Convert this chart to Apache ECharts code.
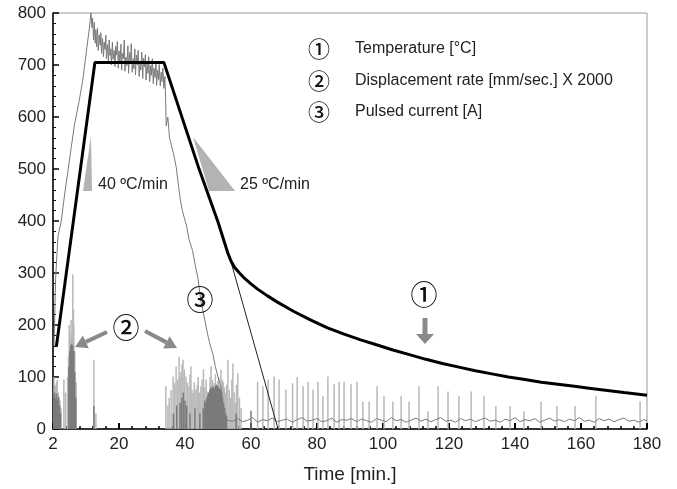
<!DOCTYPE html>
<html><head><meta charset="utf-8">
<script src="https://cdn.jsdelivr.net/npm/echarts/dist/echarts.min.js"></script>
<style>html,body{margin:0;padding:0;background:#fff}#c{width:677px;height:489px}</style>
</head><body><div id="c"></div>
<script>
// ---- tick labels ----
const xTickLabels = ['2','20','40','60','80','100','120','140','160','180'];
const legendItems = ['Temperature [°C]', 'Displacement rate [mm/sec.] X 2000', 'Pulsed current [A]'];
const legendMarks = ['①','②','③'];

// ---- series 1 : temperature [°C] ----
const temperature = [[1,158],[12.7,705],[33.6,705],[44,505],[50,398],[53,338],[54,322],[55,311],[56.5,300],[58,290],[60,279],[62,269],[65,256],[68,244],[73,226],[78,210],[83,195],[88,183],[93,172],[98,162],[103,152],[108,143],[113,134],[118,126],[123,119],[128,112],[133,106],[138,100],[143,95],[148,90],[153,86],[158,82],[163,78],[168,74],[173,70],[180,65]];
// programmed linear cooling continuation
const tempRamp = [[54,320],[68.2,0]];

// ---- series 3 : pulsed current [A] ----
const pulsedCurrent = [[0.3,160],[0.8,290],[1.5,370],[2.5,400],[3.5,450],[4.5,495],[5.5,540],[6.5,585],[7.9,630],[9,670],[10,720],[11,770],[11.5,800],[11.8,772],[12.0,790],[12.3,748],[12.5,782],[12.8,742],[13.0,768],[13.2,735],[13.5,771],[13.7,728],[14.0,758],[14.3,738],[14.5,762],[14.7,722],[15.0,751],[15.3,716],[15.5,744],[15.8,730],[16.0,757],[16.2,712],[16.5,739],[16.8,706],[17.0,748],[17.3,718],[17.5,731],[17.7,700],[18.0,744],[18.2,711],[18.5,728],[18.8,697],[19.0,736],[19.2,719],[19.5,745],[19.8,694],[20.0,727],[20.3,705],[20.6,740],[20.8,690],[21.0,722],[21.3,712],[21.6,748],[21.8,688],[22.1,715],[22.4,699],[22.7,737],[22.9,684],[23.2,724],[23.5,703],[23.7,741],[24.0,686],[24.3,712],[24.5,693],[24.8,731],[25.0,681],[25.3,719],[25.6,700],[25.8,728],[26.1,678],[26.4,707],[26.6,690],[26.9,725],[27.2,674],[27.4,713],[27.7,696],[28.0,720],[28.2,671],[28.5,702],[28.8,684],[29.0,716],[29.3,668],[29.6,699],[29.8,680],[30.1,712],[30.4,664],[30.6,694],[30.9,676],[31.2,706],[31.4,661],[31.7,690],[32.0,672],[32.2,701],[32.5,660],[32.8,686],[33.0,668],[33.3,694],[33.6,655],[33.9,678],[34.1,640],[34.3,583],[34.8,600],[35.3,560],[35.8,563],[36.5,530],[37.3,505],[38,470],[38.6,440],[39.2,420],[39.8,406],[40.5,390],[41.2,365],[42.3,343],[43.1,315],[43.9,291],[44.8,247],[45.5,225],[46.3,200],[47,178],[47.7,160],[48.4,145],[49.2,120],[50,100],[50.9,82],[51.4,50],[51.8,20],[52.5,17],
[53,18],[54.5,15],[56,20],[57.5,14],[59,17],[60.5,22],[62,13],[63.5,18],[65,16],[66.5,21],[68,14],[69.5,17],[71,19],[72.5,13],[74,18],[75.5,22],[77,15],[78.5,17],[80,20],[81.5,14],[83,16],[84.5,21],[86,13],[87.5,18],[89,17],[90.5,20],[92,14],[93.5,19],[95,16],[96.5,13],[98,20],[99.5,17],[101,14],[102.5,22],[104,16],[105.5,18],[107,13],[108.5,17],[110,21],[111.5,15],[113,19],[114.5,14],[116,18],[117.5,22],[119,15],[120.5,17],[122,13],[123.5,20],[125,16],[126.5,19],[128,14],[129.5,18],[131,21],[132.5,15],[134,17],[135.5,13],[137,19],[138.5,16],[140,22],[141.5,14],[143,18],[144.5,16],[146,20],[147.5,13],[149,17],[150.5,21],[152,15],[153.5,18],[155,14],[156.5,19],[158,16],[159.5,22],[161,15],[162.5,17],[164,13],[165.5,20],[167,16],[168.5,19],[170,14],[171.5,18],[173,21],[174.5,15],[176,17],[177.5,13],[179,18],[180,16]];

// ---- series 2 : displacement rate x 2000 (spikes) ----
const dispLight = [[0.3,100],[0.6,85],[0.8,80],[1.1,90],[1.3,95],[1.6,70],[1.8,60],[2.1,55],[2.4,40],[3.3,95],[3.8,70],[4.4,100],[4.7,140],[4.9,200],[5.1,185],[5.3,170],[5.5,210],[5.7,180],[6.0,297],[6.2,230],[6.3,200],[6.6,150],[7.0,90],[12.4,133],[13.0,30],
[34.2,82],[34.8,45],[35.2,60],[35.8,75],[36.4,101],[36.9,88],[37.3,120],[37.8,95],[38.2,139],[38.5,100],[38.8,110],[39.1,125],[39.4,133],[39.8,115],[40.3,101],[40.7,90],[41.2,82],[41.5,105],[41.8,120],[42.1,75],[42.4,69],[42.8,90],[43.3,76],[43.7,85],[44.0,100],[44.4,70],[44.8,82],[45.2,95],[45.6,115],[46.0,80],[46.4,95],[46.8,72],[47.2,60],[47.6,100],[47.9,120],[48.3,95],[48.8,88],[49.2,105],[49.5,70],[49.9,92],[50.2,100],[50.6,85],[50.9,114],[51.3,95],[51.6,90],[51.9,80],[52.2,70],[52.6,85],[53,133],[53.4,75],[53.8,60],[54.2,95],[54.5,126],[54.9,70],[55.2,50],[55.6,85],[56,107],[56.5,60],[57,40],
[62,91],[63.6,82],[65.2,95],[67,101],[68.5,95],[70.6,76],[72.6,88],[74.0,100],[75.8,82],[77.3,91],[78.8,76],[80.3,91],[81.8,63],[83.3,101],[85.2,86],[86.7,91],[88.2,91],[90.3,86],[92.1,91],[93.9,53],[95.8,53],[98.2,82],[100.3,63],[103,53],[105.5,63],[107.9,53],[110.9,82],[113.6,34],[116.7,82],[119.7,72],[123,63],[126.7,72],[130.6,63],[134.2,44],[138.5,44],[142.7,34],[147.9,53],[152.7,44],[158.2,44],[164.5,63],[177.9,53]];
const dispDark = [[0.2,65],[0.5,70],[0.8,60],[1.1,68],[1.4,55],[1.7,62],[2.0,45],[2.3,30],[4.8,120],[5.1,150],[5.4,160],[5.7,164],[6.0,160],[6.3,150],[6.6,110],[6.9,60],[12.4,44],
[36.5,30],[37.5,45],[38.5,50],[39.0,60],[39.5,70],[40.0,55],[40.5,45],[41.5,30],[43,40],[44.5,30],[45.5,40],[46,55],[46.3,50],[46.6,60],[46.9,65],[47.2,70],[47.5,75],[47.8,80],[48.1,78],[48.4,82],[48.7,80],[49,78],[49.3,84],[49.6,85],[49.9,82],[50.2,80],[50.5,78],[50.8,75],[51.1,70],[51.4,60],[51.7,50],[52,40],[52.3,30],[52.6,25],[55.5,30],[60,35]];

const chart = echarts.init(document.getElementById('c'), null, {renderer:'canvas'});
const FONT = 'Liberation Sans, Arial, sans-serif';
const CIRC = '"Noto Sans CJK JP"';

function arrow(x1,y1,x2,y2,hl,hw,color,w){
  const dx=x2-x1, dy=y2-y1, L=Math.hypot(dx,dy), ux=dx/L, uy=dy/L;
  const bx=x2-hl*ux, by=y2-hl*uy, px=-uy, py=ux;
  return [
    {type:'line', shape:{x1:x1,y1:y1,x2:bx,y2:by}, style:{stroke:color, lineWidth:w}, z:50},
    {type:'polygon', shape:{points:[[x2,y2],[bx+hw*px,by+hw*py],[bx-hw*px,by-hw*py]]}, style:{fill:color}, z:50}
  ];
}

const graphics = [];
// legend
legendMarks.forEach((m,i)=>{
  const y = 49 + i*31.5;
  graphics.push({type:'text', x:319, y:y, style:{text:m, font:'500 22px '+CIRC, fill:'#111', textAlign:'center', textVerticalAlign:'middle'}, z:60});
  graphics.push({type:'text', x:355, y:y, style:{text:legendItems[i], font:'16px '+FONT, fill:'#222', textAlign:'left', textVerticalAlign:'middle'}, z:60});
});
// slope triangles
graphics.push({type:'polygon', shape:{points:[[91,136],[83,191],[92,191]]}, style:{fill:'#b3b3b3'}, z:40});
graphics.push({type:'polygon', shape:{points:[[193,137],[209,191],[235,191]]}, style:{fill:'#b3b3b3'}, z:40});
graphics.push({type:'text', x:98, y:185, style:{text:'40 ºC/min', font:'16px '+FONT, fill:'#222', textVerticalAlign:'middle'}, z:60});
graphics.push({type:'text', x:240, y:185, style:{text:'25 ºC/min', font:'16px '+FONT, fill:'#222', textVerticalAlign:'middle'}, z:60});
// circled callouts
[['②',126,328],['③',200,300],['①',424,295]].forEach(c=>{
  graphics.push({type:'text', x:c[1], y:c[2], style:{text:c[0], font:'500 27px '+CIRC, fill:'#111', textAlign:'center', textVerticalAlign:'middle'}, z:60});
});
graphics.push(...arrow(107,332,75,347,12,7,'#8a8a8a',4));
graphics.push(...arrow(145,331,177,348,12,7,'#8a8a8a',4));
graphics.push(...arrow(425,318,425,344,10,9,'#8a8a8a',5));

chart.setOption({
  animation:false,
  backgroundColor:'#fff',
  grid:{left:53, right:30, top:13, bottom:56, show:true, borderColor:'#9a9a9a', borderWidth:1, backgroundColor:'transparent'},
  xAxis:{type:'value', min:0, max:180, interval:20,
    axisLine:{lineStyle:{color:'#000', width:1.5}},
    axisTick:{inside:true, length:6, lineStyle:{color:'#000', width:2}},
    minorTick:{show:true, splitNumber:5, length:3, lineStyle:{color:'#000', width:1.5}},
    splitLine:{show:false},
    axisLabel:{formatter:v=>xTickLabels[Math.round(v/20)], fontSize:17, color:'#222', margin:7, fontFamily:FONT},
    name:'Time [min.]', nameLocation:'middle', nameGap:36, nameTextStyle:{fontSize:19, color:'#222', fontFamily:FONT}
  },
  yAxis:{type:'value', min:0, max:800, interval:100,
    axisLine:{show:true, lineStyle:{color:'#000', width:1.5}},
    axisTick:{show:true, inside:true, length:6, lineStyle:{color:'#000', width:1.5}},
    minorTick:{show:true, splitNumber:5, length:3, lineStyle:{color:'#000', width:1}},
    splitLine:{show:false},
    axisLabel:{fontSize:17, color:'#222', margin:7, fontFamily:FONT}
  },
  series:[
    {name:'disp light', type:'bar', data:dispLight, barWidth:1.5, barGap:'-100%', itemStyle:{color:'#b8b8b8'}, z:1, silent:true},
    {name:'disp dark', type:'bar', data:dispDark, barWidth:1.5, barGap:'-100%', itemStyle:{color:'#7a7a7a'}, z:2, silent:true},
    {name:'Pulsed current', type:'line', data:pulsedCurrent, showSymbol:false, lineStyle:{color:'#7a7a7a', width:1}, z:3},
    {name:'ramp', type:'line', data:tempRamp, showSymbol:false, lineStyle:{color:'#222', width:1}, z:4},
    {name:'Temperature', type:'line', data:temperature, showSymbol:false, lineStyle:{color:'#000', width:3}, z:5}
  ],
  graphic:graphics
});
</script></body></html>
